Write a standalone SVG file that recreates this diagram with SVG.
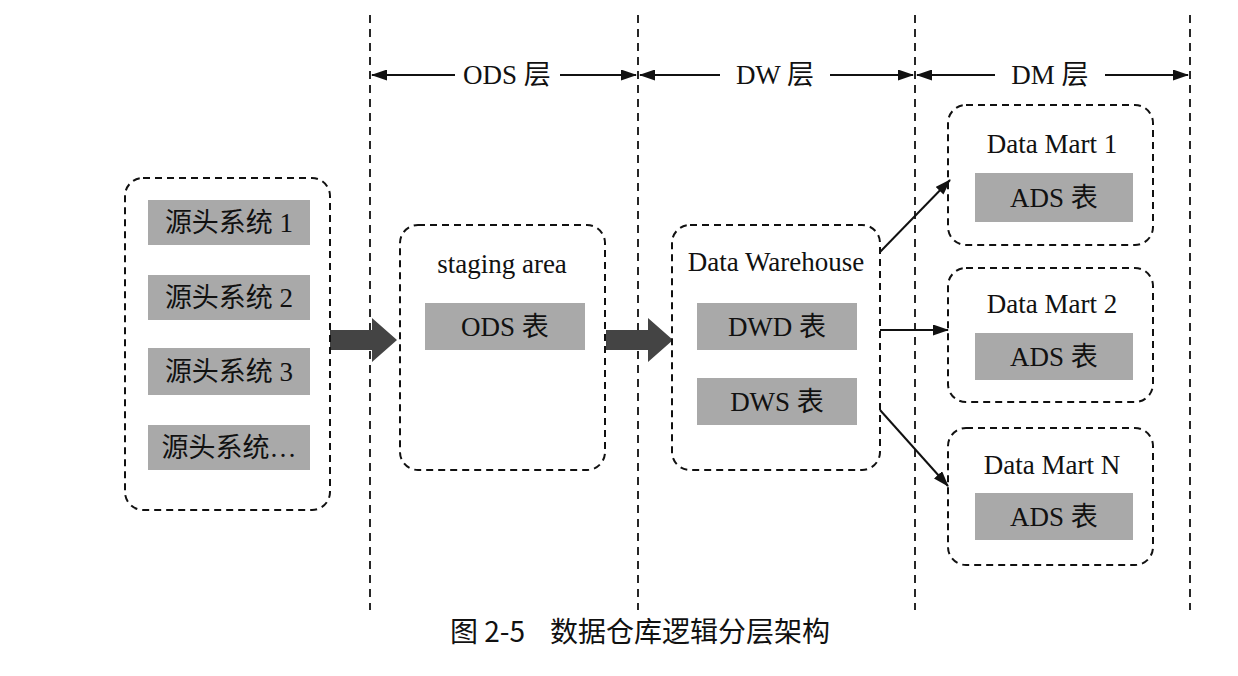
<svg xmlns="http://www.w3.org/2000/svg" width="1238" height="676" viewBox="0 0 1238 676">
<style>
.t{font-family:"Liberation Serif","Noto Sans CJK SC",serif;font-size:27px;fill:#111}
.c{font-family:"Noto Sans CJK SC",sans-serif;font-size:28px;fill:#111}
.box{fill:none;stroke:#111;stroke-width:2;stroke-dasharray:7 5}
.g{fill:#a9a9a9}
.v{stroke:#111;stroke-width:1.8;stroke-dasharray:8 6}
.a{stroke:#111;stroke-width:2;fill:none}
</style>
<defs>
<marker id="ah" markerWidth="16" markerHeight="11" refX="15" refY="5.5" orient="auto-start-reverse" markerUnits="userSpaceOnUse"><path d="M0,0L16,5.5L0,11z" fill="#111"/></marker>
</defs>
<rect width="1238" height="676" fill="#fff"/>
<g id="connectors">
<line class="v" x1="370" y1="15" x2="370" y2="610"/>
<line class="v" x1="638" y1="15" x2="638" y2="610"/>
<line class="v" x1="915" y1="15" x2="915" y2="610"/>
<line class="v" x1="1190" y1="15" x2="1190" y2="610"/>
<line class="a" x1="372" y1="75" x2="455" y2="75" marker-start="url(#ah)"/>
<line class="a" x1="560" y1="75" x2="636" y2="75" marker-end="url(#ah)"/>
<line class="a" x1="640" y1="75" x2="720" y2="75" marker-start="url(#ah)"/>
<line class="a" x1="830" y1="75" x2="913" y2="75" marker-end="url(#ah)"/>
<line class="a" x1="917" y1="75" x2="995" y2="75" marker-start="url(#ah)"/>
<line class="a" x1="1105" y1="75" x2="1188" y2="75" marker-end="url(#ah)"/>
<path d="M330,330H372V318L397,340L372,362V350H330z" fill="#444"/>
<path d="M606,330H648V318L673,340L648,362V350H606z" fill="#444"/>
<line class="a" x1="880" y1="252" x2="950" y2="180" marker-end="url(#ah)"/>
<line class="a" x1="880" y1="330" x2="948" y2="330" marker-end="url(#ah)"/>
<line class="a" x1="880" y1="410" x2="948" y2="486" marker-end="url(#ah)"/>
</g>
<g id="labels">
<text class="t" x="507" y="84" text-anchor="middle">ODS 层</text>
<text class="t" x="775" y="84" text-anchor="middle">DW 层</text>
<text class="t" x="1050" y="84" text-anchor="middle">DM 层</text>
</g>
<g id="sources">
<rect class="box" x="125" y="178" width="205" height="332" rx="18"/>
<rect class="g" x="148" y="200" width="162" height="45"/><text class="t" x="229" y="232" text-anchor="middle">源头系统 1</text>
<rect class="g" x="148" y="275" width="162" height="45"/><text class="t" x="229" y="307" text-anchor="middle">源头系统 2</text>
<rect class="g" x="148" y="348" width="162" height="47"/><text class="t" x="229" y="381" text-anchor="middle">源头系统 3</text>
<rect class="g" x="148" y="425" width="162" height="45"/><text class="t" x="229" y="457" text-anchor="middle">源头系统…</text>
</g>
<g id="staging">
<rect class="box" x="400" y="225" width="205" height="245" rx="18"/>
<text class="t" x="502" y="273" text-anchor="middle">staging area</text>
<rect class="g" x="425" y="303" width="160" height="47"/><text class="t" x="505" y="336" text-anchor="middle">ODS 表</text>
</g>
<g id="dw">
<rect class="box" x="672" y="225" width="208" height="245" rx="18"/>
<text class="t" x="776" y="271" text-anchor="middle">Data Warehouse</text>
<rect class="g" x="697" y="303" width="160" height="47"/><text class="t" x="777" y="336" text-anchor="middle">DWD 表</text>
<rect class="g" x="697" y="378" width="160" height="47"/><text class="t" x="777" y="411" text-anchor="middle">DWS 表</text>
</g>
<g id="dm1">
<rect class="box" x="948" y="105" width="205" height="140" rx="18"/>
<text class="t" x="1052" y="153" text-anchor="middle">Data Mart 1</text>
<rect class="g" x="975" y="173" width="158" height="49"/><text class="t" x="1054" y="207" text-anchor="middle">ADS 表</text>
</g>
<g id="dm2">
<rect class="box" x="948" y="268" width="205" height="134" rx="18"/>
<text class="t" x="1052" y="313" text-anchor="middle">Data Mart 2</text>
<rect class="g" x="975" y="333" width="158" height="47"/><text class="t" x="1054" y="366" text-anchor="middle">ADS 表</text>
</g>
<g id="dmn">
<rect class="box" x="948" y="428" width="205" height="137" rx="18"/>
<text class="t" x="1052" y="474" text-anchor="middle">Data Mart N</text>
<rect class="g" x="975" y="493" width="158" height="47"/><text class="t" x="1054" y="526" text-anchor="middle">ADS 表</text>
</g>
<text class="c" x="640" y="642" text-anchor="middle" xml:space="preserve">图 2-5    数据仓库逻辑分层架构</text>
</svg>
